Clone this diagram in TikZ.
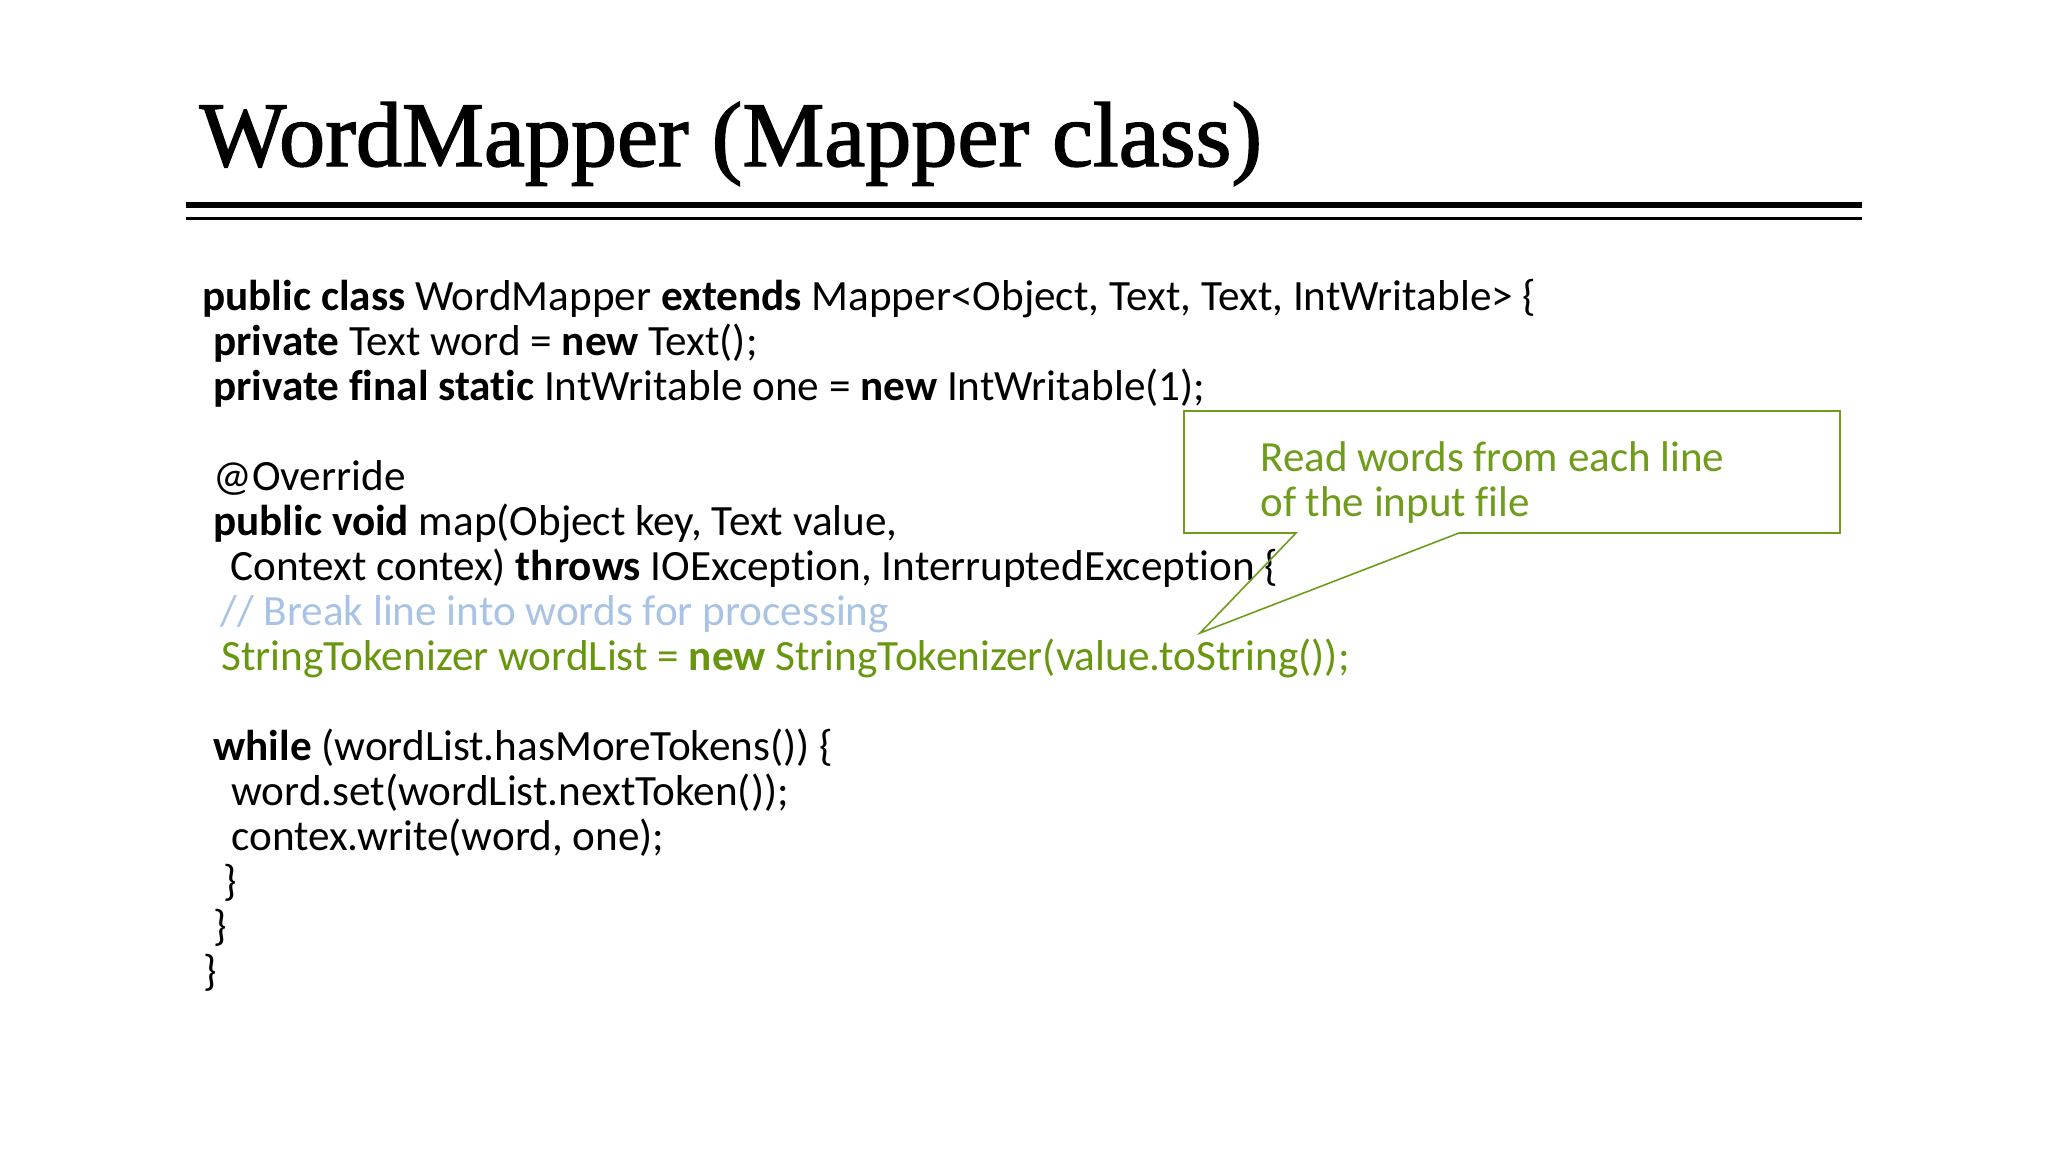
\documentclass[tikz,border=0pt]{standalone}
\usepackage{fontspec}
\setmainfont{Carlito}[Ligatures=NoCommon]
\newfontfamily\titlefont{Liberation Serif}[FakeBold=1.6]
\definecolor{codegreen}{RGB}{104,150,14}
\definecolor{commentblue}{RGB}{168,195,228}
\definecolor{callgreen}{RGB}{112,156,28}
\begin{document}
\begin{tikzpicture}[x=0.5pt,y=-0.5pt,
  codeline/.style={anchor=base west, inner sep=0pt, font=\fontsize{21.6}{23}\selectfont},
  calltext/.style={anchor=base west, inner sep=0pt, text=callgreen, font=\fontsize{21.5}{23}\selectfont},
  titletext/.style={anchor=base west, inner sep=0pt, font=\titlefont\fontsize{46.1}{50}\selectfont},
  calloutline/.style={draw=callgreen, line width=0.8pt, line join=miter}]
\useasboundingbox[fill=white] (0,0) rectangle (2048,1152);
% title
\node[titletext] (title) at (199,166) {WordMapper (Mapper class)};
\fill (186,201.5) rectangle (1862,207.5);
\fill (186,217) rectangle (1862,219.5);
% code
\node[codeline] (l1) at (202,310) {\textbf{public class} WordMapper \textbf{extends} Mapper<Object, Text, Text, IntWritable> \{};
\node[codeline] (l2) at (213,355) {\textbf{private} Text word = \textbf{new} Text();};
\node[codeline] (l3) at (213,400) {\textbf{private final static} IntWritable one = \textbf{new} IntWritable(1);};
\node[codeline] (l5) at (213,490) {@Override};
\node[codeline] (l6) at (213,535) {\textbf{public void} map(Object key, Text value,};
\node[codeline] (l7) at (230,580) {Context contex) \textbf{throws} IOException, InterruptedException \{};
\node[codeline, text=commentblue] (l8) at (220,625) {// Break line into words for processing};
\node[codeline, text=codegreen] (l9) at (221,670) {StringTokenizer wordList = \textbf{new} StringTokenizer(value.toString());};
\node[codeline] (l11) at (213,760) {\textbf{while} (wordList.hasMoreTokens()) \{};
\node[codeline] (l12) at (231,805) {word.set(wordList.nextToken());};
\node[codeline] (l13) at (231,850) {contex.write(word, one);};
\node[codeline] (l14) at (223,895) {\}};
\node[codeline] (l15) at (213,940) {\}};
\node[codeline] (l16) at (203,985) {\}};
% callout
\coordinate (bTL) at (1184,411);
\coordinate (bTR) at (1840,411);
\coordinate (bBR) at (1840,533);
\coordinate (bBL) at (1184,533);
\coordinate (pR) at (1459,533);
\coordinate (pL) at (1296,533);
\coordinate (tip) at (1200,633);
\draw[calloutline] (bTL) -- (bTR) -- (bBR) -- (pR) -- (tip) -- (pL) -- (bBL) -- cycle;
\node[calltext] (c1) at (1260,471) {Read words from each line};
\node[calltext] (c2) at (1260,516) {of the input file};
\end{tikzpicture}
\end{document}
